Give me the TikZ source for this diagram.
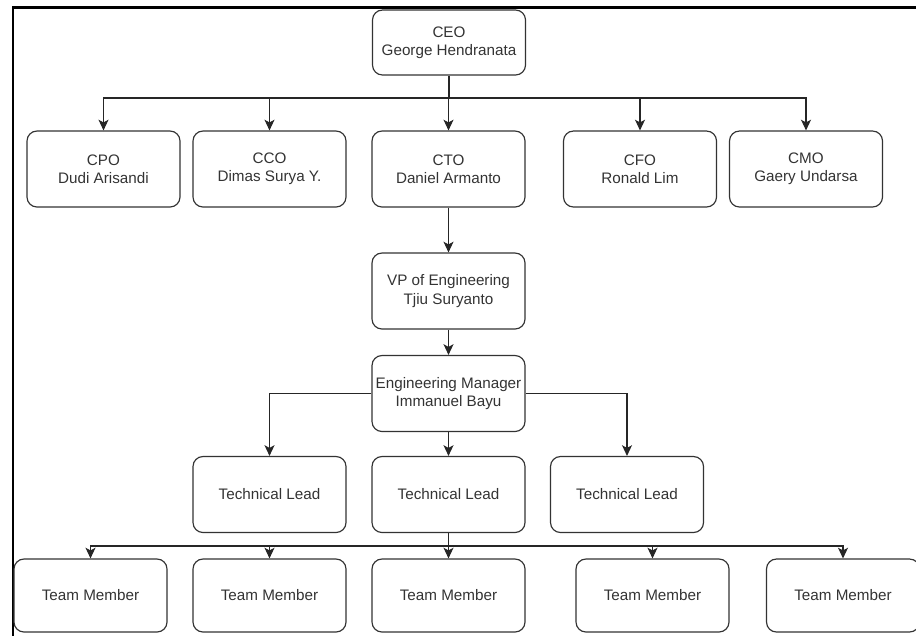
\documentclass[tikz,border=0pt]{standalone}
\usepackage{fontspec}
\setmainfont{Liberation Sans}
\usetikzlibrary{arrows.meta}
\definecolor{boxline}{HTML}{333333}

\begin{document}
\begin{tikzpicture}[x=0.03cm,y=-0.03cm,
    role/.style={draw=boxline, line width=1pt, rounded corners=0.3cm,
      minimum width=4.59cm, minimum height=2.28cm, inner sep=0pt,
      align=center, text=boxline, font=\fontsize{13}{15.5}\selectfont},
    link/.style={draw=black!85, line width=1pt, -{Stealth[length=3.2mm,width=3mm,inset=0.8mm]}},
    plain/.style={draw=black!85, line width=1.2pt}]

    \useasboundingbox (0,0) rectangle (916,635);

    % frame
    \draw[line width=2.4pt] (13,645) -- (13,7.5) -- (925,7.5);

    % top level
    \node[role, minimum height=1.95cm] (ceo) at (449,42.5) {CEO\\George Hendranata};

    % chiefs
    \node[role] (cpo) at (103.5,169) {CPO\\Dudi Arisandi};
    \node[role] (cco) at (269.5,169) {CCO\\Dimas Surya Y.};
    \node[role] (cto) at (448.5,169) {CTO\\Daniel Armanto};
    \node[role] (cfo) at (640,169) {CFO\\Ronald Lim};
    \node[role] (cmo) at (806,169) {CMO\\Gaery Undarsa};

    % engineering line
    \node[role] (vp) at (448.5,291) {VP of Engineering\\Tjiu Suryanto};
    \node[role] (em) at (448.5,393.5) {Engineering Manager\\Immanuel Bayu};

    % leads
    \node[role] (tl1) at (269.5,494.5) {Technical Lead};
    \node[role] (tl2) at (448.5,494.5) {Technical Lead};
    \node[role] (tl3) at (627,494.5) {Technical Lead};

    % team members
    \foreach \name/\x in {tm1/90.5, tm2/269.5, tm3/448.5, tm4/652.5, tm5/843}
      \node[role, minimum height=2.19cm] (\name) at (\x,595.5) {Team Member};

    % connectors
    \coordinate (chiefbus) at (449,98);
    \draw[plain] (ceo) -- (chiefbus);
    \foreach \name in {cpo,cco,cto,cfo,cmo}
      \draw[link] (chiefbus) -| (\name.north);

    \draw[link] (cto) -- (vp);
    \draw[link] (vp) -- (em);

    \draw[link] (em.west) -| (tl1.north);
    \draw[link] (em) -- (tl2);
    \draw[link] (em.east) -| (tl3.north);

    \coordinate (teambus) at (448.5,546);
    \draw[plain] (tl2) -- (teambus);
    \foreach \name in {tm1,tm2,tm3,tm4,tm5}
      \draw[link] (teambus) -| (\name.north);
\end{tikzpicture}
\end{document}
